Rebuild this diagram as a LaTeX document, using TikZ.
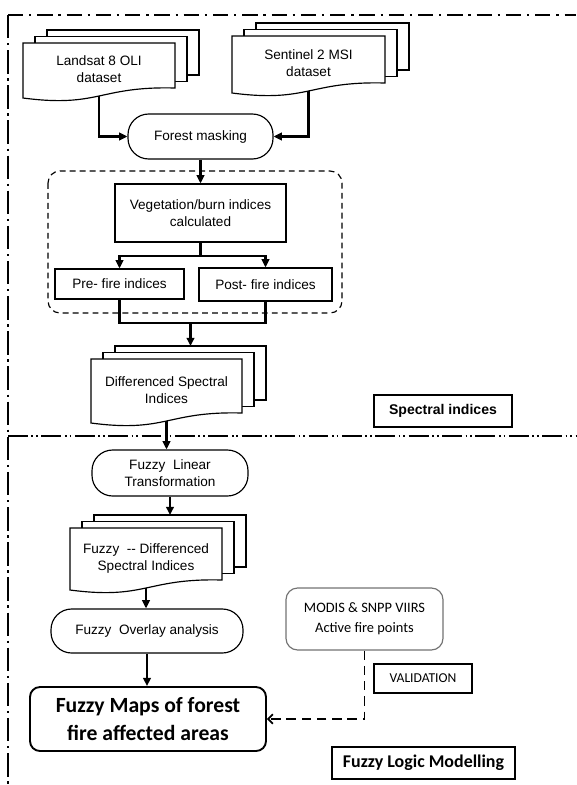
\documentclass[tikz,border=0pt]{standalone}
\usepackage{fontspec}
\setmainfont{Liberation Sans}
\newfontfamily\calibri{Carlito}
\usepackage{tikz}
\usetikzlibrary{arrows.meta,calc,positioning}

% stack of three document sheets: name, x1, ytop, x2, ybottom, text
\newcommand{\docstack}[6]{%
  \foreach \k in {2,1}
    \filldraw[fill=white,line width=1pt] ({#2+12*\k},{#3-6.5*\k}) rectangle ({#4+12*\k},{#5-10-6.5*\k});
  \filldraw[fill=white,line width=1pt] (#2,#3) -- (#4,#3) -- ({#4},{#5-10})
    .. controls ({(#2+#4)/2},{#5-12}) and ({(#2+#4)/2},{#5+10}) .. (#2,#5) -- cycle;
  \node[doctext] (#1) at ({(#2+#4)/2},{(#3+#5)/2-1}) {#6};
  \coordinate (#1-t) at ({(#2+#4)/2+24},{#3-13});
  \coordinate (#1-b) at ({(#2+#4)/2},{#5-2});
}

\begin{document}
\begin{tikzpicture}[x=0.03cm,y=-0.03cm,>={Triangle[length=7pt,width=6.5pt]},
  txt/.style={font=\fontsize{11.6}{14.5}\selectfont},
  doctext/.style={txt,align=center},
  box/.style={draw,line width=1pt,fill=white,inner sep=0pt,align=center,txt},
  pill/.style={box,rounded corners=0.62cm},
  tag/.style={draw,line width=1pt,inner sep=0pt},
  flow/.style={line width=1.8pt,->}]
\useasboundingbox (0,0) rectangle (576,785);

% frame lines
\draw[line width=2pt,dash pattern=on 13pt off 5pt on 2pt off 5pt] (8,15) -- (576,15);
\draw[line width=1.7pt,dash pattern=on 20pt off 4pt on 2pt off 4pt] (8,15) -- (8,785);
\draw[line width=1.2pt,dash pattern=on 17pt off 3pt on 1.5pt off 2.5pt on 1.5pt off 3pt] (8,436) -- (576,436);

% spectral indices part
\draw[line width=1pt,dash pattern=on 5pt off 3.5pt,rounded corners=0.36cm] (48,171) rectangle (342,313);
\docstack{land}{23}{43}{175}{98}{Landsat 8 OLI\\dataset}
\docstack{sen}{232}{36}{385}{93}{Sentinel 2 MSI\\dataset}
\node[pill,minimum width=4.35cm,minimum height=1.35cm] (fm) at (200.5,136.5) {Forest masking};
\node[box,minimum width=5.13cm,minimum height=1.74cm] (veg) at (200.5,213) {Vegetation/burn indices\\calculated};
\node[box,minimum width=3.87cm,minimum height=0.9cm] (pre) at (119.5,284) {Pre- fire indices};
\node[box,minimum width=3.99cm,minimum height=0.99cm] (post) at (265.5,284.5) {Post- fire indices};
\docstack{diff}{91}{359}{242}{423}{Differenced Spectral\\Indices}
\node[tag,minimum width=4.14cm,minimum height=0.96cm,font=\fontsize{12}{14}\selectfont\bfseries] (spec) at (443,411) {Spectral indices};

\coordinate (br) at (200.5,256);
\coordinate (jn) at (190.5,323);
\draw[flow] (land-b) |- (fm.west);
\draw[flow] (sen-b) |- (fm.east);
\draw[flow] (fm.south) -- (veg.north);
\draw[line width=1.8pt] (veg.south) -- (br);
\draw[flow] (br) -| (pre.north);
\draw[flow] (br) -| (post.north);
\draw[line width=1.8pt] (pre.south) |- (jn) -| (post.south);
\draw[flow] (jn) -- (diff-t);

% fuzzy logic part
\node[pill,minimum width=4.68cm,minimum height=1.38cm] (flt) at (170,473) {Fuzzy~ Linear\\Transformation};
\docstack{fdiff}{70}{528}{222}{590}{Fuzzy~ -{}- Differenced\\Spectral Indices}
\node[pill,minimum width=5.76cm,minimum height=1.32cm] (fov) at (147,631) {Fuzzy~ Overlay analysis};
\node[box,line width=1.6pt,rounded corners=0.3cm,minimum width=7.08cm,minimum height=1.92cm,
  font=\calibri\fontsize{18.5}{24}\selectfont\bfseries] (maps) at (148,719) {Fuzzy Maps of forest\\fire affected areas};
\node[box,draw=black!55,rounded corners=0.35cm,minimum width=4.71cm,minimum height=1.86cm,
  font=\calibri\fontsize{12.3}{17}\selectfont] (modis) at (364.5,619) {MODIS \& SNPP VIIRS\\Active fire points};
\node[tag,minimum width=2.94cm,minimum height=0.87cm,font=\calibri\fontsize{11.6}{14}\selectfont] (valid) at (423,678.5) {VALIDATION};
\node[tag,minimum width=5.49cm,minimum height=0.96cm,font=\calibri\fontsize{15.3}{18}\selectfont\bfseries] (flm) at (423.5,763) {Fuzzy Logic Modelling};

\draw[flow] (diff-b) -- (diff-b |- flt.north);
\draw[flow] (flt.south) -- (fdiff-t);
\draw[flow] (fdiff-b) -- (fdiff-b |- fov.north);
\draw[flow] (fov.south) -- (fov.south |- maps.north);
\draw[line width=1.5pt,dash pattern=on 8pt off 5pt,-{Straight Barb[length=4pt,width=8pt]}] (modis.south) |- (maps.east);
\end{tikzpicture}
\end{document}
